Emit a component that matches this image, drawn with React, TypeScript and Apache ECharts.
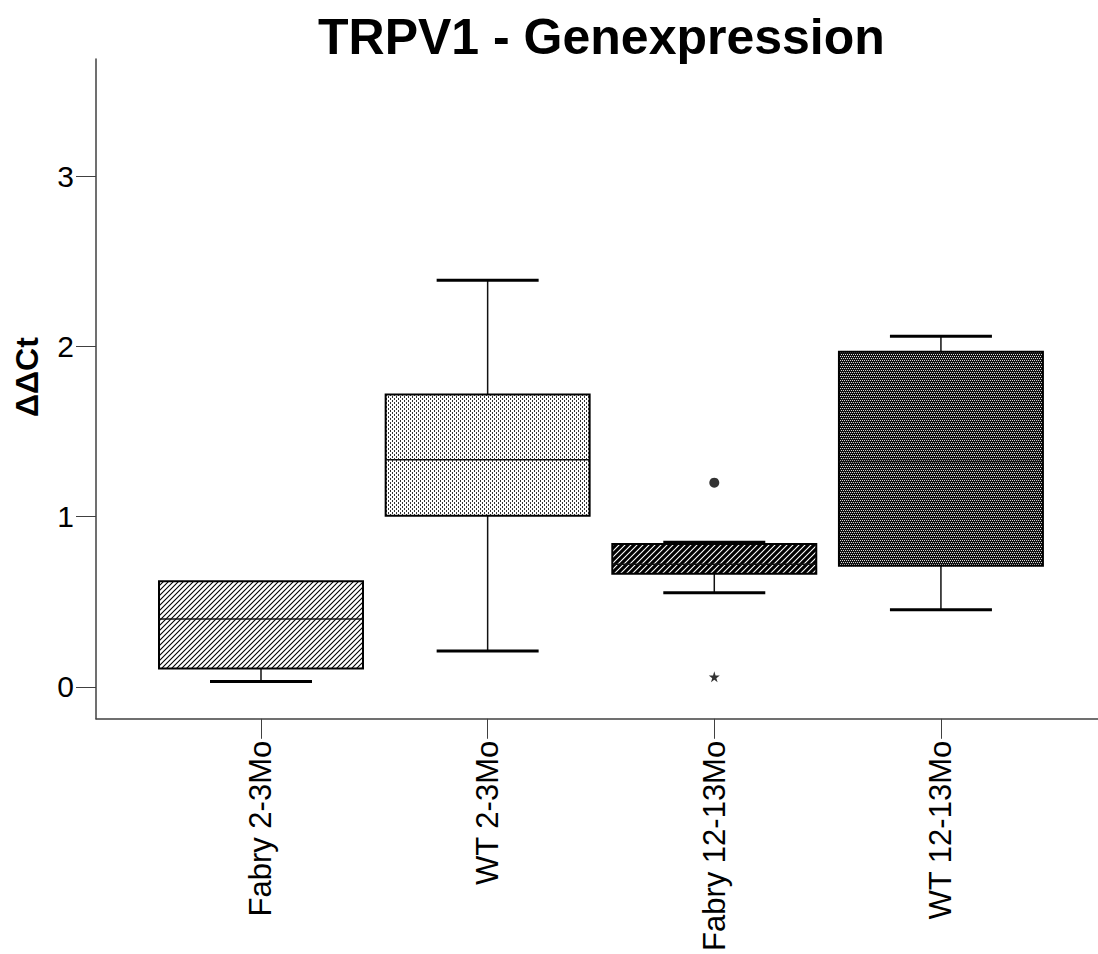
import React, { useEffect, useRef } from "react";
import * as echarts from "echarts";

const categories = ["Fabry 2-3Mo", "WT 2-3Mo", "Fabry 12-13Mo", "WT 12-13Mo"];
const whiskerLow = [0.031, 0.21, 0.553, 0.453];
const q1Values = [0.108, 1.006, 0.665, 0.712];
const medianValues = [0.398, 1.335, 0.72, 1.324];
const q3Values = [0.62, 1.718, 0.84, 1.97];
const whiskerHigh = [0.62, 2.39, 0.85, 2.06];
const outlierCircles = [[3, 1.2]];
const outlierStars = [[3, 0.059]];
const yTicks = [0, 1, 2, 3];
const xTicks = [1, 2, 3, 4];

const FONT = "'Liberation Sans', Arial, sans-serif";
const BOX_WIDTH = 0.9;
const CAP_WIDTH = 0.45;

function makePattern(kind: number): HTMLCanvasElement {
  const c = document.createElement("canvas");
  const ctx = c.getContext("2d")!;
  if (kind === 0) {
    const s = 5;
    c.width = s; c.height = s;
    ctx.fillStyle = "#fff"; ctx.fillRect(0, 0, s, s);
    ctx.strokeStyle = "#000"; ctx.lineWidth = 1.1;
    ctx.beginPath();
    ctx.moveTo(-1, s + 1); ctx.lineTo(s + 1, -1);
    ctx.moveTo(-1, 1); ctx.lineTo(1, -1);
    ctx.moveTo(s - 1, s + 1); ctx.lineTo(s + 1, s - 1);
    ctx.stroke();
  } else if (kind === 1) {
    c.width = 4; c.height = 4;
    ctx.fillStyle = "#fff"; ctx.fillRect(0, 0, 4, 4);
    ctx.fillStyle = "#333";
    ctx.fillRect(0, 0, 1, 2);
    ctx.fillRect(2, 2, 1, 2);
  } else if (kind === 2) {
    const s = 6;
    c.width = s; c.height = s;
    ctx.fillStyle = "#000"; ctx.fillRect(0, 0, s, s);
    ctx.strokeStyle = "#fff"; ctx.lineWidth = 1.1;
    ctx.beginPath();
    ctx.moveTo(-1, s + 1); ctx.lineTo(s + 1, -1);
    ctx.moveTo(-1, 1); ctx.lineTo(1, -1);
    ctx.moveTo(s - 1, s + 1); ctx.lineTo(s + 1, s - 1);
    ctx.stroke();
  } else {
    c.width = 4; c.height = 4;
    ctx.fillStyle = "#111"; ctx.fillRect(0, 0, 4, 4);
    ctx.fillStyle = "#d8d8d8";
    ctx.fillRect(0, 0, 1, 1);
    ctx.fillRect(2, 0, 1, 1);
    ctx.fillRect(1, 2, 1, 1);
    ctx.fillRect(3, 2, 1, 1);
  }
  return c;
}

export default function App() {
  const ref = useRef<HTMLDivElement>(null);
  useEffect(() => {
    if (!ref.current) return;
    const chart = echarts.init(ref.current, undefined, { renderer: "svg" });
    const patterns = [0, 1, 2, 3].map((k) => {
      const cv = makePattern(k);
      return { image: cv, repeat: "repeat", imageWidth: cv.width, imageHeight: cv.height } as any;
    });
    const boxData = categories.map((_, i) => [
      i + 1, whiskerLow[i], q1Values[i], medianValues[i], q3Values[i], whiskerHigh[i],
    ]);
    const starPath =
      "path://M50,0 L61,35 L98,35 L68,57 L79,91 L50,70 L21,91 L32,57 L2,35 L39,35 Z";
    chart.setOption({
      animation: false,
      backgroundColor: "#fff",
      title: {
        text: "TRPV1 - Genexpression",
        left: 313,
        top: 7,
        textStyle: { fontFamily: FONT, fontSize: 50, fontWeight: "bold", color: "#000" },
      },
      graphic: [
        {
          type: "text",
          x: 27,
          y: 377,
          rotation: Math.PI / 2,
          style: {
            text: "ΔΔCt",
            fontFamily: FONT,
            fontSize: 32,
            fontWeight: "bold",
            fill: "#000",
            align: "center",
            verticalAlign: "middle",
          },
        },
      ],
      grid: { left: 96, right: 0, top: 59, bottom: 234 },
      xAxis: {
        type: "value",
        min: 0.272,
        max: 4.693,
        splitLine: { show: false },
        axisLine: { show: true, onZero: false, lineStyle: { color: "#404040", width: 1.5 } },
        axisTick: { show: true, customValues: xTicks, length: 20, lineStyle: { color: "#404040", width: 1 } },
        axisLabel: {
          show: true,
          customValues: xTicks,
          rotate: 90,
          margin: 22,
          fontFamily: FONT,
          fontSize: 31,
          color: "#000",
          formatter: (v: number) => categories[Math.round(v) - 1] ?? "",
        },
      },
      yAxis: {
        type: "value",
        min: -0.188,
        max: 3.69,
        splitLine: { show: false },
        axisLine: { show: true, onZero: false, lineStyle: { color: "#404040", width: 1.5 } },
        axisTick: { show: true, customValues: yTicks, length: 20, lineStyle: { color: "#404040", width: 1 } },
        axisLabel: {
          show: true,
          customValues: yTicks,
          margin: 22,
          fontFamily: FONT,
          fontSize: 30,
          color: "#000",
          formatter: (v: number) => String(Math.round(v)),
        },
      },
      series: [
        {
          type: "custom",
          data: boxData,
          encode: { x: 0, y: [1, 2, 3, 4, 5] },
          renderItem: (params: any, api: any) => {
            const x = api.value(0);
            const lo = api.value(1);
            const q1 = api.value(2);
            const med = api.value(3);
            const q3 = api.value(4);
            const hi = api.value(5);
            const half = api.size([BOX_WIDTH, 0])[0] / 2;
            const capHalf = api.size([CAP_WIDTH, 0])[0] / 2;
            const pLo = api.coord([x, lo]);
            const pQ1 = api.coord([x, q1]);
            const pMed = api.coord([x, med]);
            const pQ3 = api.coord([x, q3]);
            const pHi = api.coord([x, hi]);
            const cx = pMed[0];
            const children: any[] = [];
            const lineStyle = { stroke: "#111", lineWidth: 1.5 };
            if (hi > q3) {
              children.push({ type: "line", shape: { x1: cx, y1: pQ3[1], x2: cx, y2: pHi[1] }, style: lineStyle });
            }
            if (lo < q1) {
              children.push({ type: "line", shape: { x1: cx, y1: pQ1[1], x2: cx, y2: pLo[1] }, style: lineStyle });
            }
            children.push({
              type: "rect",
              shape: { x: cx - half, y: pQ3[1], width: half * 2, height: pQ1[1] - pQ3[1] },
              style: { fill: patterns[params.dataIndex], stroke: "#000", lineWidth: 2 },
            });
            children.push({
              type: "line",
              shape: { x1: cx - half, y1: pMed[1], x2: cx + half, y2: pMed[1] },
              style: { stroke: "#111", lineWidth: 1.5 },
            });
            if (hi > q3) {
              children.push({
                type: "line",
                shape: { x1: cx - capHalf, y1: pHi[1], x2: cx + capHalf, y2: pHi[1] },
                style: { stroke: "#000", lineWidth: 3 },
              });
            }
            if (lo < q1) {
              children.push({
                type: "line",
                shape: { x1: cx - capHalf, y1: pLo[1], x2: cx + capHalf, y2: pLo[1] },
                style: { stroke: "#000", lineWidth: 3 },
              });
            }
            return { type: "group", children };
          },
        },
        {
          type: "scatter",
          data: outlierCircles,
          symbol: "circle",
          symbolSize: 10,
          itemStyle: { color: "#000" },
        },
        {
          type: "scatter",
          data: outlierStars,
          symbol: starPath,
          symbolSize: 11,
          itemStyle: { color: "#000" },
        },
      ],
    });
    return () => chart.dispose();
  }, []);
  return (
    <div
      ref={ref}
      style={{ position: "fixed", left: 0, top: 0, width: 1098, height: 954, background: "#fff" }}
    />
  );
}
